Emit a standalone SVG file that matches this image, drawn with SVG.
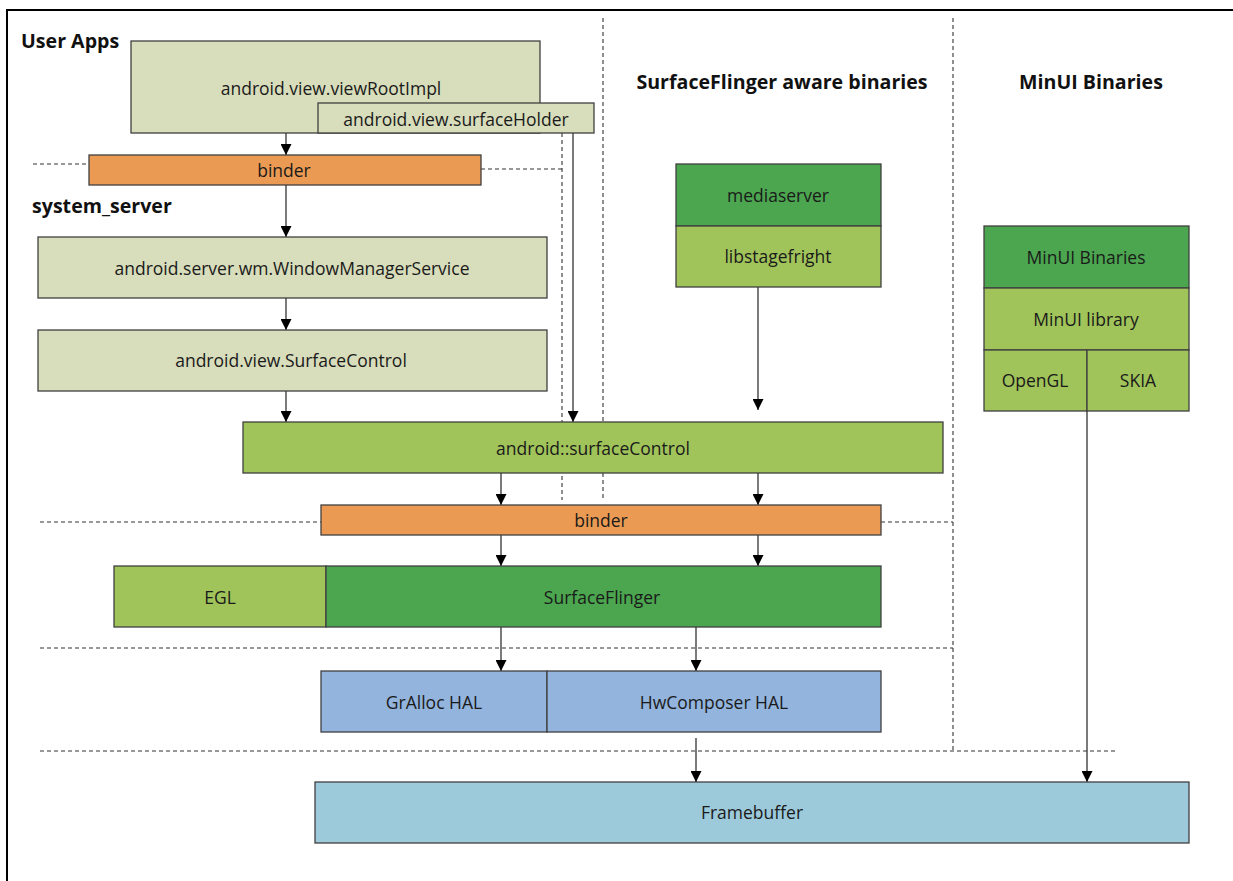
<svg xmlns="http://www.w3.org/2000/svg" width="1233" height="881" viewBox="0 0 1233 881">
  <style>
    .box { stroke: #404040; stroke-width: 1.3; }
    .khaki { fill: #D8DDBB; }
    .orange { fill: #EA9A53; }
    .lgreen { fill: #A1C45A; }
    .dgreen { fill: #4BA64F; }
    .blue { fill: #92B4DD; }
    .cyan { fill: #9DCADB; }
    .lbl { font-family: "Open Sans", "Noto Sans", sans-serif; font-size: 17.5px; fill: #1a1a1a; text-anchor: middle; dominant-baseline: central; }
    .ttl { font-family: "Open Sans", "Noto Sans", sans-serif; font-size: 19.6px; font-weight: bold; fill: #111; }
    .dash { fill: none; stroke: #333; stroke-width: 1.1; stroke-dasharray: 4 3; }
    .conn { fill: none; stroke: #222; stroke-width: 1.2; marker-end: url(#arrow); }
  </style>
  <defs>
    <marker id="arrow" viewBox="0 0 10 10" refX="10" refY="5" markerUnits="userSpaceOnUse" markerWidth="11" markerHeight="11" orient="auto">
      <path d="M0,0 L10,5 L0,10 Z" fill="#000"/>
    </marker>
  </defs>

  <rect width="1233" height="881" fill="#fff"/>
  <!-- outer frame -->
  <path d="M7,881 V10 H1233" fill="none" stroke="#000" stroke-width="2"/>

  <!-- layer separators -->
  <g id="separators">
    <path class="dash" d="M33,164 H89"/>
    <path class="dash" d="M481,169 H562"/>
    <path class="dash" d="M562,133 V500"/>
    <path class="dash" d="M603,18 V500"/>
    <path class="dash" d="M953,18 V750"/>
    <path class="dash" d="M40,522 H321"/>
    <path class="dash" d="M881,522 H953"/>
    <path class="dash" d="M40,648 H953"/>
    <path class="dash" d="M40,751 H1118"/>
  </g>

  <!-- section titles -->
  <g id="titles">
    <text class="ttl" x="21" y="48">User Apps</text>
    <text class="ttl" x="32" y="213">system_server</text>
    <text class="ttl" x="782" y="89" text-anchor="middle">SurfaceFlinger aware binaries</text>
    <text class="ttl" x="1091" y="89" text-anchor="middle">MinUI Binaries</text>
  </g>

  <g id="connectors">
    <path class="conn" d="M286,133 V155"/>
    <path class="conn" d="M286,185 V237"/>
    <path class="conn" d="M286,298 V330"/>
    <path class="conn" d="M286,391 V422"/>
    <path class="conn" d="M573,133 V422"/>
    <path class="conn" d="M758,287 V410"/>
    <path class="conn" d="M501,473 V505"/>
    <path class="conn" d="M758,473 V505"/>
    <path class="conn" d="M501,535 V566"/>
    <path class="conn" d="M758,535 V566"/>
    <path class="conn" d="M501,627 V671"/>
    <path class="conn" d="M696,627 V671"/>
    <path class="conn" d="M696,738 V782"/>
    <path class="conn" d="M1087,411 V782"/>
  </g>

  <g id="viewRootImpl">
    <rect class="box khaki" x="131" y="41" width="409" height="92"/>
    <text class="lbl" x="331" y="88">android.view.viewRootImpl</text>
  </g>
  <g id="surfaceHolder">
    <rect class="box khaki" x="318" y="103" width="276" height="30"/>
    <text class="lbl" x="456" y="119">android.view.surfaceHolder</text>
  </g>
  <g id="binder-app">
    <rect class="box orange" x="89" y="155" width="392" height="30"/>
    <text class="lbl" x="284" y="170">binder</text>
  </g>
  <g id="windowManagerService">
    <rect class="box khaki" x="38" y="237" width="509" height="61"/>
    <text class="lbl" x="292" y="268">android.server.wm.WindowManagerService</text>
  </g>
  <g id="surfaceControl-java">
    <rect class="box khaki" x="38" y="330" width="509" height="61"/>
    <text class="lbl" x="291" y="360">android.view.SurfaceControl</text>
  </g>
  <g id="mediaserver">
    <rect class="box dgreen" x="676" y="164" width="205" height="62"/>
    <text class="lbl" x="778" y="195">mediaserver</text>
  </g>
  <g id="libstagefright">
    <rect class="box lgreen" x="676" y="226" width="205" height="61"/>
    <text class="lbl" x="778" y="256">libstagefright</text>
  </g>
  <g id="minui-binaries">
    <rect class="box dgreen" x="984" y="226" width="205" height="62"/>
    <text class="lbl" x="1086" y="257">MinUI Binaries</text>
  </g>
  <g id="minui-library">
    <rect class="box lgreen" x="984" y="288" width="205" height="62"/>
    <text class="lbl" x="1086" y="319">MinUI library</text>
  </g>
  <g id="opengl">
    <rect class="box lgreen" x="984" y="350" width="103" height="61"/>
    <text class="lbl" x="1035" y="380">OpenGL</text>
  </g>
  <g id="skia">
    <rect class="box lgreen" x="1087" y="350" width="102" height="61"/>
    <text class="lbl" x="1138" y="380">SKIA</text>
  </g>
  <g id="surfaceControl-native">
    <rect class="box lgreen" x="243" y="422" width="700" height="51"/>
    <text class="lbl" x="593" y="448">android::surfaceControl</text>
  </g>
  <g id="binder-sf">
    <rect class="box orange" x="321" y="505" width="560" height="30"/>
    <text class="lbl" x="601" y="520">binder</text>
  </g>
  <g id="egl">
    <rect class="box lgreen" x="114" y="566" width="212" height="61"/>
    <text class="lbl" x="220" y="597">EGL</text>
  </g>
  <g id="surfaceFlinger">
    <rect class="box dgreen" x="326" y="566" width="555" height="61"/>
    <text class="lbl" x="602" y="597">SurfaceFlinger</text>
  </g>
  <g id="gralloc">
    <rect class="box blue" x="321" y="671" width="226" height="61"/>
    <text class="lbl" x="434" y="702">GrAlloc HAL</text>
  </g>
  <g id="hwcomposer">
    <rect class="box blue" x="547" y="671" width="334" height="61"/>
    <text class="lbl" x="714" y="702">HwComposer HAL</text>
  </g>
  <g id="framebuffer">
    <rect class="box cyan" x="315" y="782" width="874" height="61"/>
    <text class="lbl" x="752" y="812">Framebuffer</text>
  </g>
</svg>
